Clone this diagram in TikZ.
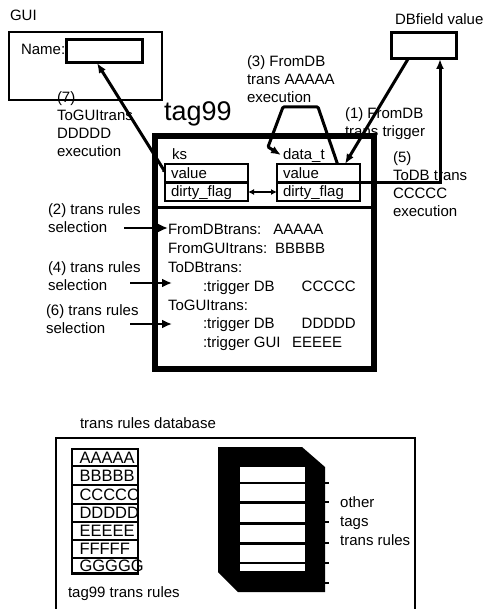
\documentclass[tikz,border=0pt]{standalone}
\usepackage{fontspec}
\setmainfont{Liberation Sans}
\usetikzlibrary{arrows.meta}
\tikzset{
  txt/.style={font=\fontsize{15}{18}\selectfont, inner sep=0pt, outer sep=0pt, anchor=base west, align=left},
  bigtxt/.style={font=\fontsize{16.5}{18}\selectfont, inner sep=0pt, outer sep=0pt, anchor=west},
  boxnw/.style={draw, anchor=north west, inner sep=0pt, outer sep=0pt},
  conn/.style={line width=3pt, -{Latex[length=10pt,width=8pt]}},
  sel/.style={line width=2.5pt, -{Latex[length=10pt,width=9pt]}},
}
\begin{document}
\begin{tikzpicture}[x=1pt,y=-1pt]
\useasboundingbox (0,0) rectangle (486,609);
\clip (0,0) rectangle (486,609);

% GUI
\node[txt] (guil) at (10,21) {GUI};
\node[boxnw, line width=2pt, minimum width=153pt, minimum height=68pt] (gui) at (9,32) {};
\node[txt] (namel) at (21,55) {Name:};
\node[boxnw, line width=3pt, minimum width=76pt, minimum height=23pt] (name) at (66,40) {};

% DB field
\node[txt] (dbfl) at (395,25) {DBfield value};
\node[boxnw, line width=3pt, minimum width=65pt, minimum height=26pt] (dbf) at (391,33) {};

% tag99
\node[font=\fontsize{27}{30}\selectfont, inner sep=0pt, anchor=base west] (tagl) at (164,121) {tag99};
\node[boxnw, line width=6pt, minimum width=219pt, minimum height=233pt] (tag) at (155,136) {};
\draw[line width=3pt] (155,208) -- (374,208);

\node[txt] (ksl) at (172,160) {ks};
\node[boxnw, line width=2.5pt, minimum width=83pt, minimum height=37pt] (ks) at (165,164) {};
\draw[line width=2.5pt] (ks.west) -- (ks.east);
\node[txt] (ksv) at (171,179) {value};
\node[txt] (ksd) at (171,197) {dirty\_flag};

\node[txt] (dtl) at (283,160) {data\_t};
\node[boxnw, line width=2.5pt, minimum width=83pt, minimum height=37pt] (dt) at (277,164) {};
\draw[line width=2.5pt] (dt.west) -- (dt.east);
\node[txt] (dtv) at (283,179) {value};
\node[txt] (dtd) at (283,197) {dirty\_flag};

\node[txt] (r1) at (168,235) {FromDBtrans:\hspace{12pt}AAAAA};
\node[txt] (r2) at (168,253) {FromGUItrans:\hspace{8pt}BBBBB};
\node[txt] (r3) at (168,272) {ToDBtrans:};
\node[txt] (r4) at (203,291) {:trigger DB\hspace{27pt}CCCCC};
\node[txt] (r5) at (168,310) {ToGUItrans:};
\node[txt] (r6) at (203,328) {:trigger DB\hspace{27pt}DDDDD};
\node[txt] (r7) at (203,347) {:trigger GUI\hspace{11.5pt}EEEEE};

% labels (anchor = baseline of last line)
\node[txt] (l7) at (57,157) {(7)\\ToGUItrans\\DDDDD\\execution};
\node[txt] (l3) at (247,103) {(3) FromDB\\trans AAAAA\\execution};
\node[txt] (l1) at (345,137) {(1) FromDB\\trans trigger};
\node[txt] (l5) at (393,217) {(5)\\ToDB trans\\CCCCC\\execution};
\node[txt] (l2) at (48,233) {(2) trans rules\\selection};
\node[txt] (l4) at (48,290) {(4) trans rules\\selection};
\node[txt] (l6) at (46,333) {(6) trans rules\\selection};

% connectors
\coordinate (ksvin) at ([shift={(1,9.5)}]ks.north west);
\draw[line width=3pt, {Latex[length=4pt,width=5pt]}-{Latex[length=10pt,width=8pt]}] (ksvin) -- ([xshift=-7pt]name.south);
\draw[conn] ([xshift=-15.5pt]dbf.south) -- ([xshift=26.5pt]dt.north);
\coordinate (c3a) at (318,107);
\coordinate (c3b) at (283,107);
\coordinate (c3c) at (268,147);
\draw[conn, rounded corners=1pt] ([xshift=19pt]dt.north) -- (c3a) -- (c3b) -- (c3c) -- ([shift={(-2,-1)}]dtl.west);
\draw[conn] (dt.east) -| ([xshift=16.5pt]dbf.south);
\draw[line width=2.5pt, {Latex[length=6pt,width=6pt]}-{Latex[length=6pt,width=6pt]}] ([yshift=-9.5pt]ks.east) -- ([yshift=-9.5pt]dt.west);

\coordinate (s2) at (124,228);
\coordinate (s4) at (130,283);
\coordinate (s6) at (130,324);
\draw[sel] (s2) -- (r1.west |- s2);
\draw[sel] (s4) -- (172,283);
\draw[sel] (s6) -- (172,324);

% database
\node[txt] (dbl) at (80,428) {trans rules database};
\node[boxnw, line width=2pt, minimum width=359pt, minimum height=190pt] (db) at (56,438) {};
\foreach \t/\y/\h [count=\i] in {AAAAA/449/17,BBBBB/466/19,CCCCC/485/19,DDDDD/504/18,EEEEE/522/18,FFFFF/540/18,GGGGG/558/15.5} {
  \node[boxnw, line width=2.5pt, minimum width=66pt, minimum height=\h pt] (rule\i) at (72,\y) {};
  \node[bigtxt] (rt\i) at ([xshift=7.5pt]rule\i.west) {\t};
}
\node[txt] (tagr) at (68,597) {tag99 trans rules};

% other tags stack
\fill (218,447) -- (302,447) -- (325,467) -- (325,592) -- (238,592) -- (218,572) -- cycle;
\foreach \a/\b in {467/482,484/501,504/522,525/542,545/562,564/571}
  \fill[white] (240,\a) rectangle (305,\b);
\foreach \y in {483,502,522,543,563,583}
  \draw[line width=1.5pt] (325,\y) -- (328.5,\y);
\node[font=\fontsize{15}{19}\selectfont, inner sep=0pt, anchor=base west, align=left] (oth) at (340,545) {other\\tags\\trans rules};
\end{tikzpicture}
\end{document}
